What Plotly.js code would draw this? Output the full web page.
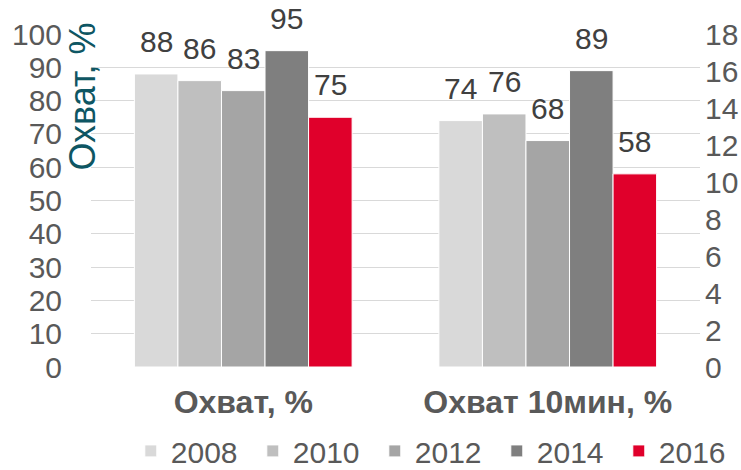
<!DOCTYPE html>
<html>
<head>
<meta charset="utf-8">
<script src="https://cdn.plot.ly/plotly-3.0.1.min.js"></script>
<style>
  body { margin: 0; background: #fff; }
  #chart { width: 741px; height: 470px; }
</style>
</head>
<body>
<div id="chart"></div>
<script>
// Chart data
const categories = ['<b>Охват, %</b>', '<b>Охват 10мин, %</b>'];
const years = ['2008', '2010', '2012', '2014', '2016'];
const values = [
  [88, 74],
  [86, 76],
  [83, 68],
  [95, 89],
  [75, 58]
];
const colors = ['#D9D9D9', '#BFBFBF', '#A5A5A5', '#7F7F7F', '#E0002B'];
const rightTicks = [0, 2, 4, 6, 8, 10, 12, 14, 16, 18];

const fontFamily = 'Liberation Sans, Arial, sans-serif';
const W = 741, H = 470;
const margin = { l: 91, r: 41, t: 34, b: 103 };
const bargap = 0.285;

// width of one bar in px, used to put value labels over their bars
const plotW = W - margin.l - margin.r;
const barW = plotW / categories.length * (1 - bargap) / years.length;

let traces = [];
let labels = [];
for (let i = 0; i < years.length; i++) {
  traces.push({
    type: 'bar',
    name: years[i],
    x: categories,
    y: values[i],
    marker: { color: colors[i], line: { color: '#ffffff', width: 1 } },
    hoverinfo: 'none'
  });
  for (let j = 0; j < categories.length; j++) {
    labels.push({
      x: categories[j],
      y: values[i][j],
      xref: 'x',
      yref: 'y',
      text: String(values[i][j]),
      showarrow: false,
      xanchor: 'center',
      yanchor: 'bottom',
      xshift: (i - (years.length - 1) / 2) * barW,
      yshift: 14,
      font: { family: fontFamily, size: 30, color: '#404040' }
    });
  }
}

// empty trace so the right axis is drawn
traces.push({
  type: 'scatter',
  x: categories,
  y: [null, null],
  yaxis: 'y2',
  showlegend: false,
  hoverinfo: 'none'
});

// y axis title sits inside, next to the tick labels
labels.push({
  text: 'Охват, %',
  textangle: -90,
  xref: 'paper',
  yref: 'paper',
  x: (83 - margin.l) / plotW,
  y: 0.812,
  xanchor: 'center',
  yanchor: 'middle',
  showarrow: false,
  font: { family: fontFamily, size: 36, color: '#0E5663' }
});

const layout = {
  width: W,
  height: H,
  margin: Object.assign({ autoexpand: false }, margin),
  paper_bgcolor: '#ffffff',
  plot_bgcolor: '#ffffff',
  font: { family: fontFamily, color: '#595959' },
  barmode: 'group',
  bargap: bargap,
  bargroupgap: 0,
  showlegend: true,
  legend: {
    orientation: 'h',
    x: 1.067,
    xanchor: 'right',
    y: -0.252,
    yanchor: 'middle',
    bgcolor: 'rgba(0,0,0,0)',
    font: { size: 30, color: '#595959' },
    entrywidth: 77,
    entrywidthmode: 'pixels',
    traceorder: 'normal'
  },
  xaxis: {
    tickfont: { size: 32, color: '#595959' },
    showline: false,
    ticks: '',
    ticklabelstandoff: 13
  },
  yaxis: {
    range: [0, 100],
    dtick: 10,
    tickfont: { size: 30, color: '#595959' },
    showgrid: true,
    gridcolor: '#D9D9D9',
    gridwidth: 1,
    zeroline: false,
    showline: false,
    ticks: '',
    ticklabelstandoff: 28
  },
  yaxis2: {
    overlaying: 'y',
    side: 'right',
    range: [0, 18],
    tickvals: rightTicks,
    tickfont: { size: 30, color: '#595959' },
    showgrid: false,
    zeroline: false,
    showline: false,
    ticks: '',
    ticklabelstandoff: 4
  },
  annotations: labels
};

Plotly.newPlot('chart', traces, layout, { displayModeBar: false, staticPlot: true });
</script>
</body>
</html>
